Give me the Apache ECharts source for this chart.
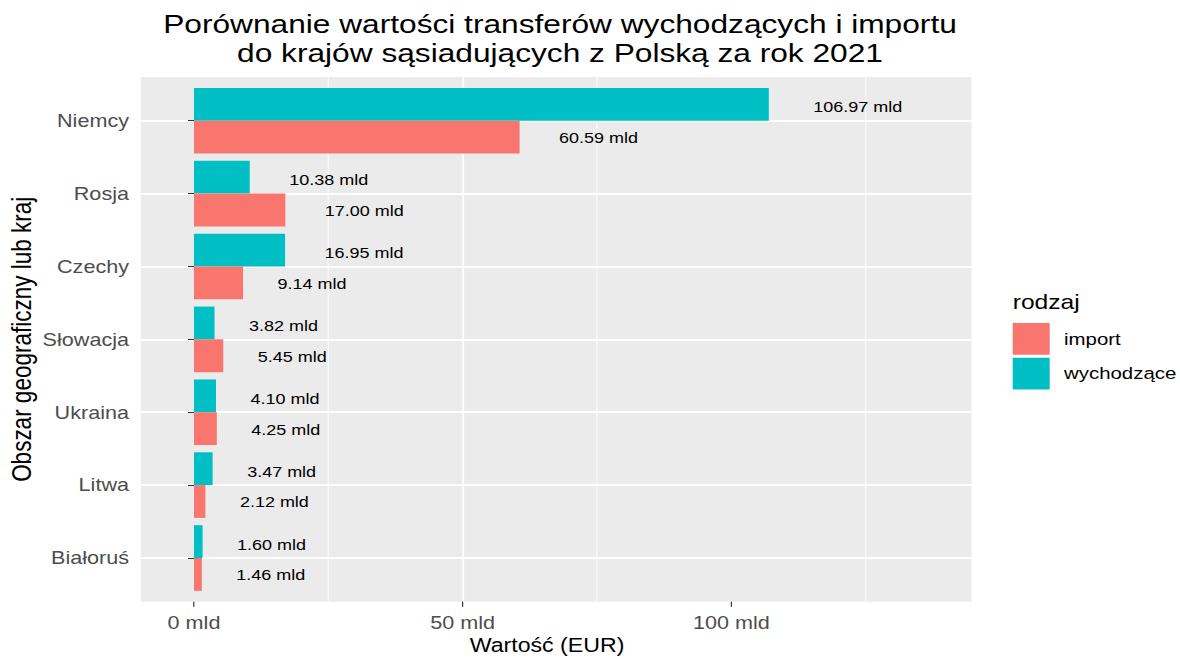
<!DOCTYPE html>
<html>
<head>
<meta charset="utf-8">
<script src="https://cdn.jsdelivr.net/npm/echarts@6/dist/echarts.min.js"></script>
<style>
html, body { margin: 0; padding: 0; background: #fff; overflow: hidden; }
#wrap { width: 1180px; height: 659px; overflow: hidden; }
#chart { width: 983.333px; height: 659px; transform: scaleX(1.2); transform-origin: 0 0; }
</style>
</head>
<body>
<div id="wrap"><div id="chart"></div></div>
<script>
// dane
const countries = ['Niemcy', 'Rosja', 'Czechy', 'Słowacja', 'Ukraina', 'Litwa', 'Białoruś'];
const wychodzace = [106.97, 10.38, 16.95, 3.82, 4.10, 3.47, 1.60];
const importVals = [60.59, 17.00, 9.14, 5.45, 4.25, 2.12, 1.46];
const xTicks = [0, 50, 100];

// the R output has wide glyphs, so the whole chart is stretched a bit horizontally
const SX = 1.2;
const sx = v => v / SX;
const FONT = '"Liberation Sans", Arial, sans-serif';

const panelTop = 77, panelBottom = 601.7, panelLeft = 141, panelRight = 972;
const band = (panelBottom - panelTop) / 7.2;
const xMin = -9.86, xMax = 144.7;

const fmt = v => v.toFixed(2) + ' mld';
const ctx = document.createElement('canvas').getContext('2d');
ctx.font = '15px "Liberation Sans"';
// hjust = -0.5 in ggplot -> gap of half the text width
const gap = v => ctx.measureText(fmt(v)).width / 2;

const toData = arr => arr.map(v => ({ value: v, label: { distance: gap(v) } }));

const labelBase = {
  show: true,
  position: 'right',
  formatter: p => fmt(p.value),
  fontSize: 15,
  fontFamily: FONT,
  color: '#000'
};

const chart = echarts.init(document.getElementById('chart'), null, { renderer: 'svg' });

const option = {
  animation: false,
  backgroundColor: '#fff',
  textStyle: { fontFamily: FONT },
  grid: [
    {
      left: sx(panelLeft), right: sx(1180 - panelRight), top: panelTop, bottom: 659 - panelBottom,
      show: true, backgroundColor: '#EBEBEB', borderWidth: 0
    },
    {
      left: sx(panelLeft), right: sx(1180 - panelRight),
      top: panelTop + 0.1 * band, bottom: 659 - (panelBottom - 0.1 * band)
    }
  ],
  xAxis: [
    {
      type: 'value', gridIndex: 0, min: xMin, max: xMax, splitNumber: 3,
      axisLine: { show: false },
      axisTick: { show: true, length: 5, customValues: xTicks, lineStyle: { color: '#333', width: 1 } },
      axisLabel: {
        customValues: xTicks, formatter: v => v + ' mld',
        fontSize: 18, color: '#4D4D4D', margin: 12, fontFamily: FONT
      },
      splitLine: { show: true, showMinLine: false, showMaxLine: false, lineStyle: { color: '#fff', width: 1.5 } },
      minorTick: { show: false, splitNumber: 2 },
      minorSplitLine: { show: true, lineStyle: { color: '#fff', width: 0.8 } }
    },
    { type: 'value', gridIndex: 1, min: xMin, max: xMax, show: false }
  ],
  yAxis: [
    {
      type: 'value', gridIndex: 0, inverse: true, min: 0.4, max: 7.6, splitNumber: 7,
      axisLine: { show: false }, axisTick: { show: false }, axisLabel: { show: false },
      splitLine: { show: true, showMinLine: false, showMaxLine: false, lineStyle: { color: '#fff', width: 1.8 } }
    },
    {
      type: 'category', gridIndex: 1, inverse: true, data: countries,
      axisLine: { show: false },
      axisTick: { show: true, alignWithLabel: true, length: 5, lineStyle: { color: '#333', width: 1 } },
      axisLabel: { fontSize: 18, color: '#4D4D4D', margin: 10, fontFamily: FONT, padding: [5, 0, 0, 0] },
      splitLine: { show: false }
    }
  ],
  legend: {
    data: ['import', 'wychodzące'],
    orient: 'vertical',
    left: sx(1012.7), top: 323,
    padding: 0,
    icon: 'rect',
    itemWidth: sx(37), itemHeight: 31.7, itemGap: 3,
    selectedMode: false,
    textStyle: { fontSize: 17, color: '#000', fontFamily: FONT, padding: [0, 0, 0, 7] }
  },
  graphic: [
    {
      type: 'text', x: sx(560), y: 9,
      style: {
        text: 'Porównanie wartości transferów wychodzących i importu\ndo krajów sąsiadujących z Polską za rok 2021',
        fontSize: 26.4, fontFamily: FONT, fill: '#000', align: 'center', verticalAlign: 'top', lineHeight: 29
      }
    },
    {
      type: 'text', x: sx(547), y: 636,
      style: { text: 'Wartość (EUR)', fontSize: 19.3, fontFamily: FONT, fill: '#000', align: 'center', verticalAlign: 'top' }
    },
    {
      type: 'text', x: sx(22), y: (panelTop + panelBottom) / 2, rotation: Math.PI / 2,
      style: { text: 'Obszar geograficzny lub kraj', fontSize: 22.5, fontFamily: FONT, fill: '#000', align: 'center', verticalAlign: 'middle' }
    },
    {
      type: 'text', x: sx(1012.7), y: 302,
      style: { text: 'rodzaj', fontSize: 20.5, fontFamily: FONT, fill: '#000', align: 'left', verticalAlign: 'middle' }
    }
  ],
  series: [
    {
      name: 'wychodzące', type: 'bar', xAxisIndex: 1, yAxisIndex: 1,
      data: toData(wychodzace),
      barGap: '0%', barCategoryGap: '10%',
      itemStyle: { color: '#00BFC4' },
      label: Object.assign({}, labelBase, { offset: [0, 3] }),
      emphasis: { disabled: true }
    },
    {
      name: 'import', type: 'bar', xAxisIndex: 1, yAxisIndex: 1,
      data: toData(importVals),
      barGap: '0%', barCategoryGap: '10%',
      itemStyle: { color: '#F8766D' },
      label: Object.assign({}, labelBase, { offset: [0, 1] }),
      emphasis: { disabled: true }
    }
  ]
};

chart.setOption(option);
</script>
</body>
</html>
